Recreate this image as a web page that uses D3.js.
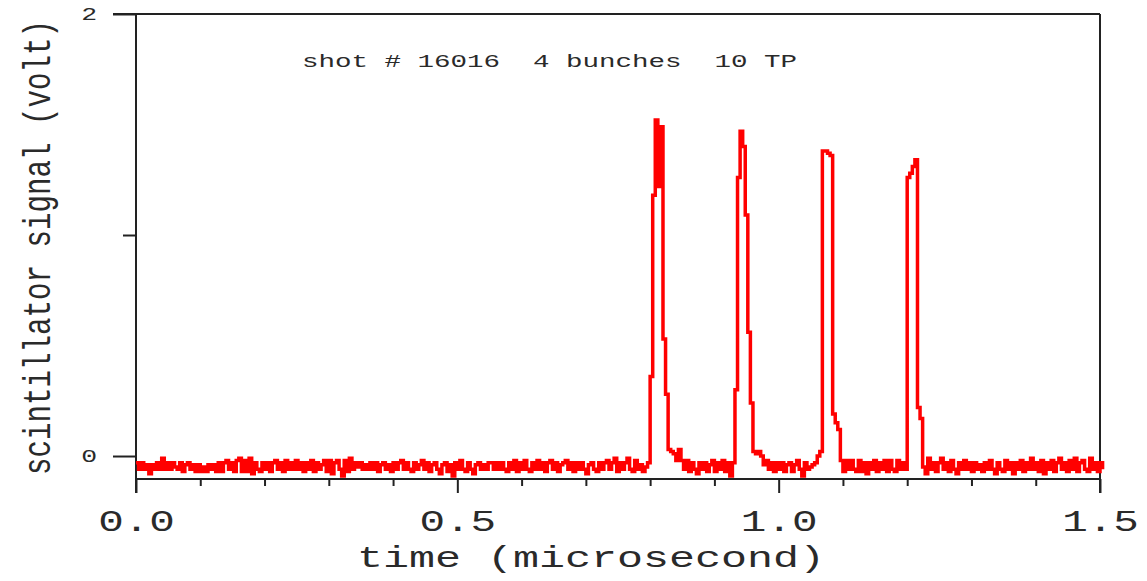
<!DOCTYPE html>
<html lang="en">
  <head>
    <meta charset="UTF-8" />
    <title>Scintillator signal, shot 16016</title>
    <script src="https://d3js.org/d3.v7.min.js"></script>
    <style>
      body {
        margin: 0;
        background: #fff;
      }

      text {
        font-family: "Liberation Mono", "Courier New", monospace;
        fill: #2a2a2a;
      }

      .trace {
        fill: none;
        stroke: #ff0000;
        stroke-width: 3.5;
        stroke-linejoin: miter;
      }

      .frame line,
      .tick line {
        stroke: #222;
        stroke-width: 2;
      }
    </style>
  </head>
  <body>
    <svg id="chart" width="1147" height="581"></svg>

    <script>
      // sampling step of the digitizer (microsecond)
      var sampleStep = 0.004;

      // signal in volt, one value per sample
      var quietStart = [
        -0.03, -0.06, -0.03, -0.06, -0.04, -0.08, -0.04, -0.06, -0.03, -0.06,
        -0.01, -0.06, -0.03, -0.06, -0.03, -0.05, -0.06, -0.03, -0.07, -0.04,
        -0.03, -0.06, -0.04, -0.07, -0.04, -0.07, -0.05, -0.07, -0.04, -0.06,
        -0.04, -0.07, -0.03, -0.07, -0.03, -0.02, -0.06, -0.03, -0.07, -0.02,
        -0.01, -0.07, -0.02, -0.07, -0.01, -0.08, -0.03, -0.06, -0.07, -0.03,
        -0.06, -0.03, -0.07, -0.03, -0.02, -0.06, -0.03, -0.07, -0.02, -0.06,
        -0.03, -0.06, -0.02, -0.06, -0.03, -0.07, -0.03, -0.06, -0.02, -0.07,
        -0.03, -0.06, -0.04, -0.02, -0.07, -0.02, -0.08, -0.03, -0.02, -0.06,
        -0.09, -0.02, -0.07, -0.01, -0.06, -0.03, -0.05, -0.03, -0.06, -0.04,
        -0.06, -0.03, -0.06, -0.03, -0.07, -0.04, -0.03, -0.06, -0.04, -0.07,
        -0.03, -0.06, -0.03, -0.02, -0.06, -0.03, -0.06, -0.07, -0.03, -0.06,
        -0.04, -0.02, -0.06, -0.03, -0.07, -0.04, -0.03, -0.06, -0.08, -0.04,
        -0.03, -0.07, -0.04, -0.09, -0.03, -0.06, -0.02, -0.06, -0.07, -0.03,
        -0.06, -0.08, -0.04, -0.03, -0.06, -0.04, -0.06, -0.03, -0.03, -0.06,
        -0.03, -0.06, -0.03, -0.06, -0.07, -0.03, -0.06, -0.02, -0.07, -0.03,
        -0.06, -0.02, -0.06, -0.07, -0.03, -0.06, -0.02, -0.06, -0.03, -0.07,
        -0.03, -0.02, -0.06, -0.03, -0.07, -0.04, -0.03, -0.02, -0.06, -0.03,
        -0.07, -0.03, -0.06, -0.03, -0.06, -0.08, -0.04, -0.03, -0.06, -0.07,
        -0.03, -0.06, -0.03, -0.02, -0.06, -0.03, -0.01, -0.07, -0.03, -0.06,
        -0.03, -0.01, -0.06, -0.07, -0.02, -0.06, -0.04, -0.07, -0.05, -0.03
      ];
      var bunch1 = [0.36, 1.18, 1.52, 1.22, 1.49, 0.53, 0.28, 0.03];
      var gap1 = [
        0.02, 0.01, -0.02, 0.03, -0.02, -0.06, -0.02, -0.07, -0.03, -0.06,
        -0.08, -0.03, -0.06, -0.03, -0.07, -0.04, -0.02, -0.07, -0.03, -0.06,
        -0.02, -0.07, -0.03, -0.09, -0.03
      ];
      var bunch2 = [0.3, 1.26, 1.47, 1.4, 1.09, 0.56, 0.24, 0.02];
      var gap2 = [
        0.01, 0.02, 0.0, -0.04, -0.02, -0.06, -0.03, -0.07, -0.03, -0.06,
        -0.03, -0.07, -0.04, -0.03, -0.07, -0.04, -0.02, -0.06, -0.09, -0.03,
        -0.06, -0.05, -0.04
      ];
      var bunch3 = [-0.03, 0.0, 0.02, 1.38, 1.38, 1.37, 1.36, 0.19, 0.15, 0.12];
      var gap3 = [
        -0.02, -0.07, -0.02, -0.06, -0.02, -0.06, -0.07, -0.02, -0.07, -0.03,
        -0.08, -0.03, -0.06, -0.02, -0.07, -0.03, -0.06, -0.02, -0.07, -0.02,
        -0.06, -0.07, -0.02, -0.06, -0.03, -0.06
      ];
      var bunch4 = [1.26, 1.28, 1.31, 1.34, 0.22, 0.17];
      var tail = [
        -0.05, -0.08, -0.01, -0.06, -0.03, -0.07, -0.03, -0.01, -0.06, -0.03,
        -0.07, -0.02, -0.06, -0.08, -0.03, -0.06, -0.02, -0.06, -0.03, -0.07,
        -0.03, -0.06, -0.04, -0.07, -0.03, -0.06, -0.02, -0.06, -0.08, -0.03,
        -0.06, -0.07, -0.02, -0.06, -0.03, -0.08, -0.03, -0.06, -0.02, -0.07,
        -0.03, -0.06, -0.01, -0.06, -0.03, -0.07, -0.02, -0.08, -0.03, -0.06,
        -0.02, -0.07, -0.03, -0.01, -0.06, -0.03, -0.07, -0.02, -0.06, -0.01,
        -0.07, -0.03, -0.02, -0.06, -0.07, -0.01, -0.06, -0.03, -0.07, -0.03,
        -0.06
      ];

      // axis ticks
      var timeTicks = [0, 0.5, 1.0, 1.5];
      var timeMinorTicks = [0.1, 0.2, 0.3, 0.4, 0.6, 0.7, 0.8, 0.9, 1.1, 1.2, 1.3, 1.4];
      var voltTicks = [0, 2];
      var voltMinorTicks = [1];

      var titleText = "shot # 16016  4 bunches  10 TP";
      var xLabel = "time (microsecond)";
      var yLabel = "scintillator signal (volt)";

      // old plot was stretched sideways, text follows it
      var stretch = 1.47;

      var trace = []
        .concat(quietStart, bunch1, gap1, bunch2, gap2, bunch3, gap3, bunch4, tail)
        .map(function (v, i) {
          return { t: i * sampleStep, v: v };
        });

      var svg = d3.select("#chart");

      var x = d3.scaleLinear().domain([0, 1.5]).range([136, 1100]);
      var y = d3.scaleLinear().domain([-0.104, 2]).range([479, 14]);
      var yBottom = y.domain()[0];

      // frame
      var frame = svg.append("g").attr("class", "frame");
      frame
        .append("line")
        .attr("x1", x(0) - 23)
        .attr("x2", x(1.5))
        .attr("y1", y(2))
        .attr("y2", y(2));
      frame
        .append("line")
        .attr("x1", x(0))
        .attr("x2", x(1.5))
        .attr("y1", y(yBottom))
        .attr("y2", y(yBottom));
      frame
        .append("line")
        .attr("x1", x(0))
        .attr("x2", x(0))
        .attr("y1", y(2))
        .attr("y2", y(yBottom) + 14);
      frame
        .append("line")
        .attr("x1", x(1.5))
        .attr("x2", x(1.5))
        .attr("y1", y(2))
        .attr("y2", y(yBottom) + 14);

      // x axis
      var xAxisG = svg
        .append("g")
        .attr("transform", "translate(0," + y(yBottom) + ")");
      xAxisG
        .append("g")
        .call(
          d3.axisBottom(x).tickValues(timeMinorTicks).tickSize(7).tickSizeOuter(0).tickFormat("")
        )
        .select(".domain")
        .remove();
      var xMajor = xAxisG
        .append("g")
        .call(
          d3
            .axisBottom(x)
            .tickValues(timeTicks)
            .tickSize(14)
            .tickSizeOuter(0)
            .tickFormat(d3.format(".1f"))
        );
      xMajor.select(".domain").remove();
      xMajor
        .selectAll("text")
        .attr("font-size", 29)
        .attr("y", 52)
        .attr("dy", 0)
        .attr("transform", "scale(" + stretch + ",1)");

      // y axis
      var yAxisG = svg.append("g").attr("transform", "translate(" + x(0) + ",0)");
      yAxisG
        .append("g")
        .call(d3.axisLeft(y).tickValues(voltMinorTicks).tickSize(13).tickSizeOuter(0).tickFormat(""))
        .select(".domain")
        .remove();
      var yMajor = yAxisG
        .append("g")
        .call(
          d3
            .axisLeft(y)
            .tickValues(voltTicks)
            .tickSize(23)
            .tickSizeOuter(0)
            .tickFormat(d3.format("d"))
        );
      yMajor.select(".domain").remove();
      yMajor
        .selectAll("text")
        .attr("font-size", 18)
        .attr("x", -39 / stretch)
        .attr("transform", "scale(" + stretch + ",1)");

      // the trace
      var line = d3
        .line()
        .x(function (d) {
          return x(d.t);
        })
        .y(function (d) {
          return y(d.v);
        })
        .curve(d3.curveStepAfter);

      svg.append("path").datum(trace).attr("class", "trace").attr("d", line);

      // labels
      function stretchedText(cx, cy, str, size, len, turn) {
        var tr = "translate(" + cx + "," + cy + ") scale(" + stretch + ",1)";
        if (turn) tr += " rotate(-90)";
        svg
          .append("text")
          .attr("transform", tr)
          .attr("text-anchor", "middle")
          .attr("font-size", size)
          .attr("textLength", len)
          .attr("lengthAdjust", "spacingAndGlyphs")
          .style("white-space", "pre")
          .text(str);
      }

      stretchedText(549.5, 67, titleText, 19, 495 / stretch, false);
      stretchedText(591, 567, xLabel, 29, 468 / stretch, false);
      stretchedText(50, 247.5, yLabel, 26, 455, true);
    </script>
  </body>
</html>
